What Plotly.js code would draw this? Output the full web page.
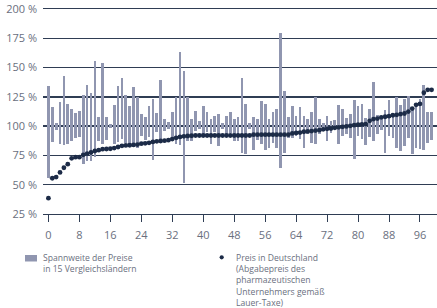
<!DOCTYPE html>
<html><head><meta charset="utf-8">
<script src="https://cdn.plot.ly/plotly-3.0.1.min.js"></script>
<style>html,body{margin:0;padding:0;background:#fff}#c{width:437px;height:308px}</style>
</head><body><div id="c"></div>
<script>
const idx = Array.from({length:100},(_,i)=>i);
const rangeLow = [55.5,86.5,97,85,84.3,84.5,87.5,90.3,90.5,68,70,70.5,74,87.5,84.5,88,98.5,85,86.5,88.7,
85.9,82.4,83.6,81.3,92,88,91,71.5,95.3,87.8,95.5,97.3,88.5,85,84,51.8,87.5,87.4,95.5,97.3,
93.2,95,85,95,83,97.3,91,94.5,87.5,87.3,77,76,97.3,80,88,84.5,80,81,85.9,81.6,
64,77.5,90,90,91.6,89.3,81.6,93,85.9,84.4,93,97.3,87.3,94.4,97.3,84.4,91.6,93,90.1,72,
91.6,88.7,83.9,91,87,93,97,77.3,91.6,90,81.3,78.7,83,90,76,81,80.7,79.6,85.3,88];
const rangeHigh = [134.5,116,103,121,142.5,119.3,115,111.5,113.3,127,135.5,128,156,107.7,154,108,101.5,118.3,134.5,140.7,
127,117.5,133,125,110.7,107.8,117.5,123.5,111.5,139.7,106.5,103.3,112.5,124.5,163,147.5,125,106.5,113,104.3,
117.5,112.5,106.5,108.8,110.7,103,109,112.5,106.5,108,141.5,118.5,102.4,107.7,106.3,121.8,119.2,106.3,112.5,115,
179.8,130.3,108,117.5,109,116.7,109,106.4,112.5,125.2,106.4,102.4,109,104.1,105,118.3,115,107.2,110.7,122.7,
117.5,118.5,107.2,114.7,138,109.7,108,114,122.7,111,125,118.2,123,126,114,117.5,122.8,135.5,112.5,112];
const priceDE = [38.5,55.5,56.5,60.5,64.5,67.5,72.5,73.5,73.5,75.5,76.5,77.5,78.8,79.5,80.3,80.5,80.7,81.3,82.2,83.2,
83.5,83.7,84,84.3,85,85.3,85.8,86.5,87,87.3,87.6,88,89,90,90.8,91.3,91.6,91.8,92,92,
92,92,92,92,92,92,92,92,92,92,92,92,92,92.7,92.7,92.7,92.7,92.7,92.7,92.7,
92.7,92.7,92.7,93.8,94.2,94.5,95.2,95.5,95.8,96.2,96.6,97.3,97.7,98,98.6,99,99.4,99.8,100.3,100.8,
101.2,101.4,101.8,104.5,106,106.5,107.5,108,108.5,109.3,109.7,110.3,110.8,112.4,115,118.2,119,128.5,131,131];
const xTicks = [0,8,16,24,32,40,48,56,64,72,80,88,96];
const yTicks = [25,50,75,100,125,150,175,200];
const yTickText = yTicks.map(v => v + ' %');
const legendRange = 'Spannweite der Preise<br>in 15 Vergleichsländern';
const legendPrice = 'Preis in Deutschland<br>(Abgabepreis des<br>pharmazeutischen<br>Unternehmers gemäß<br>Lauer-Taxe)';

const barColor = '#9096b0', dotColor = '#1c2b47', gridColor = '#2f3d54', txtColor = '#6a6f7e';
const L = 43, T = 9, W = 394, H = 205;
const px = x => (x - L) / W, py = y => (T + H - y) / H;

const traces = [
  {type:'bar', x:idx, base:rangeLow, y:rangeHigh.map((h,i)=>h-rangeLow[i]), width:0.7,
   marker:{color:barColor}, hoverinfo:'skip', showlegend:false},
  {type:'scatter', mode:'markers', x:idx, y:priceDE, marker:{color:dotColor, size:4.8},
   hoverinfo:'skip', showlegend:false}
];
const layout = {
  width:437, height:308, margin:{l:L, r:437-L-W, t:T, b:308-T-H},
  paper_bgcolor:'#fff', plot_bgcolor:'#fff',
  font:{family:'Open Sans, sans-serif', size:11, color:txtColor},
  xaxis:{range:[-1.4,100.4], tickvals:xTicks, ticks:'outside', ticklen:7, tickcolor:gridColor, tickwidth:1,
    showline:true, mirror:true, linecolor:gridColor, linewidth:1.3, showgrid:false, zeroline:false,
    ticklabelstandoff:3, fixedrange:true},
  yaxis:{range:[25,200], tickvals:yTicks, ticktext:yTickText, showgrid:true, gridcolor:gridColor, gridwidth:1.3,
    zeroline:false, showline:false, ticks:'', ticklabelstandoff:5, fixedrange:true},
  bargap:0,
  shapes:[
    {type:'rect', xref:'paper', yref:'paper', x0:px(25), x1:px(37), y0:py(261.5), y1:py(255), fillcolor:barColor, line:{width:0}},
    {type:'circle', xref:'paper', yref:'paper', x0:px(219.6), x1:px(223.8), y0:py(259.4), y1:py(255.2), fillcolor:dotColor, line:{width:0}}
  ],
  annotations:[
    {xref:'paper', yref:'paper', x:px(41), y:py(249.5), xanchor:'left', yanchor:'top', align:'left', showarrow:false,
     text:legendRange, font:{size:8.6, color:txtColor}},
    {xref:'paper', yref:'paper', x:px(233.5), y:py(249.5), xanchor:'left', yanchor:'top', align:'left', showarrow:false,
     text:legendPrice, font:{size:8.6, color:txtColor}}
  ]
};
Plotly.newPlot('c', traces, layout, {staticPlot:true, displayModeBar:false});
</script></body></html>
